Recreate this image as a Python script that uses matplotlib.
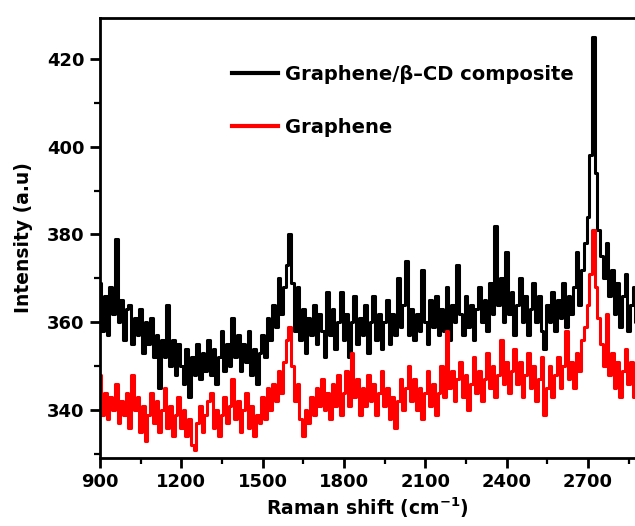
import numpy as np
import matplotlib
matplotlib.use('Agg')
import matplotlib.pyplot as plt
from matplotlib.ticker import MultipleLocator

# 字體設定
matplotlib.rcParams['font.family'] = ['DejaVu Sans']
matplotlib.rcParams['font.weight'] = 'bold'
matplotlib.rcParams['axes.unicode_minus'] = False

# Raman shift (cm-1), 每 10 cm-1 一點
raman_shift = np.arange(900, 2890, 10)

# Graphene/β-CD composite 強度
composite_intensity = [
    369, 358, 366, 357, 368, 362, 379, 360, 365, 356,
    363, 364, 355, 361, 357, 363, 353, 360, 355, 361,
    352, 357, 345, 356, 352, 364, 350, 356, 348, 355,
    350, 346, 354, 343, 352, 348, 355, 347, 353, 349,
    356, 348, 354, 346, 352, 358, 349, 355, 350, 361,
    352, 357, 349, 355, 351, 358, 348, 354, 346, 353,
    357, 352, 361, 356, 364, 359, 370, 362, 368, 373,
    380, 369, 358, 368, 356, 363, 353, 361, 357, 364,
    355, 362, 358, 352, 367, 357, 363, 354, 360, 367,
    356, 362, 352, 360, 366, 355, 361, 357, 364, 353,
    360, 366, 356, 362, 354, 360, 365, 355, 362, 357,
    370, 359, 364, 374, 357, 363, 356, 362, 358, 372,
    360, 355, 365, 359, 366, 357, 363, 358, 368, 356,
    364, 360, 373, 362, 357, 366, 359, 364, 356, 363,
    368, 360, 365, 358, 369, 362, 382, 364, 370, 360,
    376, 362, 367, 357, 364, 370, 360, 366, 357, 363,
    369, 360, 366, 358, 354, 364, 360, 367, 358, 365,
    361, 369, 359, 366, 362, 368, 376, 364, 372, 378,
    384, 398, 425, 394, 381, 375, 370, 378, 366, 372,
    362, 369, 359, 366, 371, 358, 364, 368, 360,
]

# Graphene 強度
graphene_intensity = [
    348, 339, 344, 338, 343, 340, 346, 337, 342, 339,
    344, 336, 348, 340, 343, 335, 341, 333, 339, 344,
    337, 342, 335, 340, 345, 336, 341, 334, 339, 343,
    336, 340, 334, 338, 332, 331, 337, 341, 335, 339,
    342, 344, 336, 340, 334, 339, 343, 337, 341, 347,
    338, 342, 335, 340, 344, 336, 341, 334, 339, 337,
    343, 338, 345, 340, 346, 342, 349, 344, 351, 356,
    359, 350, 342, 346, 338, 334, 340, 337, 343, 339,
    345, 341, 347, 340, 344, 338, 346, 341, 348, 339,
    344, 349, 341, 353, 343, 347, 339, 345, 341, 348,
    342, 346, 339, 344, 349, 341, 345, 338, 343, 336,
    342, 347, 340, 345, 350, 342, 347, 340, 345, 338,
    344, 349, 341, 346, 339, 344, 350, 343, 358, 345,
    349, 342, 347, 351, 343, 348, 340, 346, 352, 344,
    349, 342, 347, 353, 345, 350, 343, 348, 356, 346,
    351, 344, 349, 354, 346, 351, 343, 348, 353, 345,
    350, 342, 347, 352, 339, 345, 350, 343, 348, 352,
    345, 350, 358, 347, 351, 345, 353, 349, 356, 359,
    364, 371, 381, 368, 361, 355, 350, 362, 348, 353,
    345, 351, 343, 349, 354, 346, 351, 343, 349,
]

fig = plt.figure(figsize=(6.35, 5.26), dpi=100)
ax = fig.add_axes([100 / 635, 68 / 526, 535 / 635, 440 / 526])

# 先畫 composite，再讓 graphene 疊在上面（階梯線呈現光譜雜訊）
ax.plot(raman_shift, composite_intensity, color='black', linewidth=2.2,
        drawstyle='steps-mid', label='Graphene/β–CD composite')
ax.plot(raman_shift, graphene_intensity, color='red', linewidth=2.2,
        drawstyle='steps-mid', label='Graphene')

ax.set_xlim(900, 2873.5)
ax.set_ylim(329.1, 429.3)

ax.xaxis.set_major_locator(MultipleLocator(300))
ax.xaxis.set_minor_locator(MultipleLocator(150))
ax.yaxis.set_major_locator(MultipleLocator(20))
ax.yaxis.set_minor_locator(MultipleLocator(10))

ax.tick_params(which='major', direction='out', length=7, width=2,
               labelsize=13, pad=4)
ax.tick_params(which='minor', direction='out', length=4, width=1.6)
ax.tick_params(top=False, right=False)

for side in ['left', 'bottom', 'top']:
    ax.spines[side].set_linewidth(2)
ax.spines['right'].set_visible(False)

ax.set_xlabel('Raman shift (cm$^{\\mathbf{-1}}$)', fontsize=13.5,
              fontweight='bold', labelpad=3)
ax.set_ylabel('Intensity (a.u)', fontsize=13.5, fontweight='bold',
              labelpad=10)

leg = ax.legend(loc='upper left', bbox_to_anchor=(0.228, 0.916),
                frameon=False, fontsize=14, borderpad=0,
                handlelength=2.4, handletextpad=0.36, labelspacing=1.78)
for line in leg.get_lines():
    line.set_linewidth(3)
    line.set_drawstyle('default')

fig.savefig('out.png', dpi=100)
